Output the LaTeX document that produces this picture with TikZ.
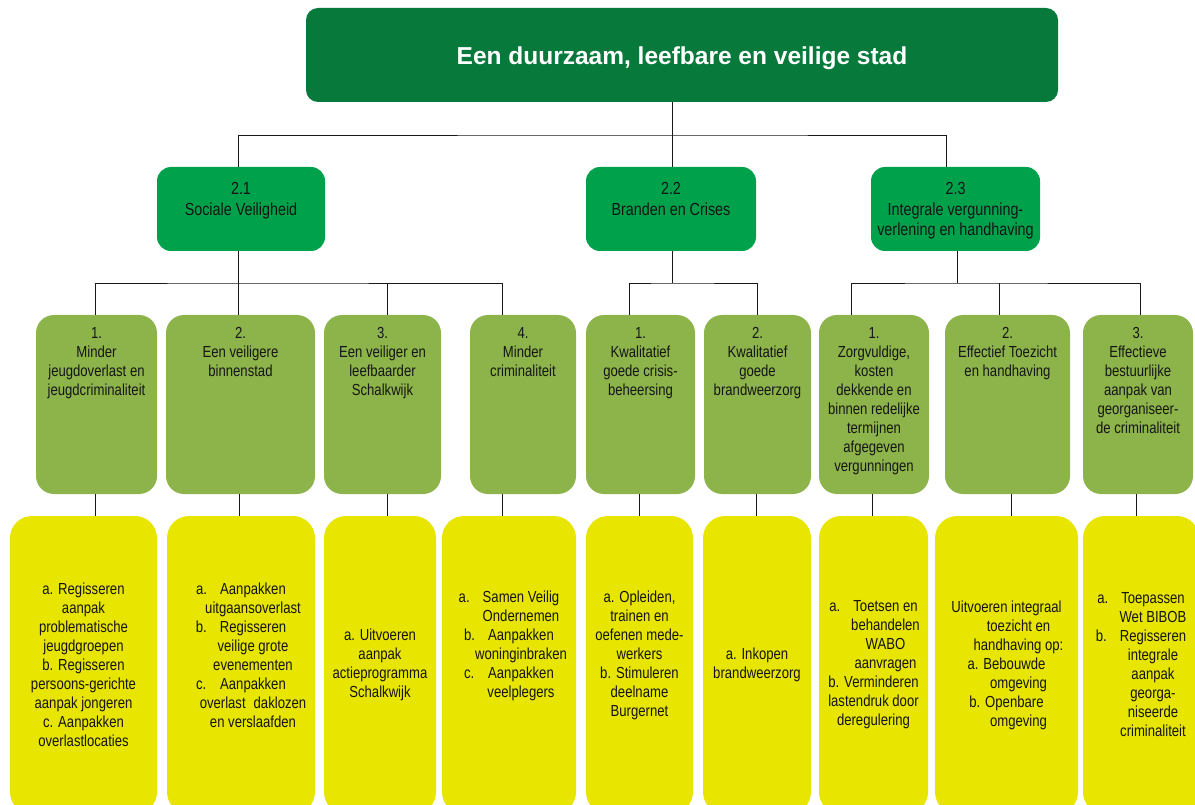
\documentclass[tikz,border=0pt]{standalone}
\usepackage{fontspec}
\setmainfont{Liberation Sans}
\newfontfamily\narrow[FakeStretch=0.82]{Liberation Sans}
\usetikzlibrary{calc}

\definecolor{dkgreen}{HTML}{077A3B}
\definecolor{mdgreen}{HTML}{00A14B}
\definecolor{ltgreen}{HTML}{8DB44B}
\definecolor{ylw}{HTML}{E8E500}
\definecolor{txtc}{HTML}{151515}

% hanging list item: label hangs left of the text, text shifted right
\newcommand\hangitem[2]{\hbox{\kern24pt\llap{\hbox to 24pt{#1\hfil}}#2}}
\newcommand\hangcont[1]{\hbox{\kern24pt #1}}
% box: style, x1, y1, x2, y2, name
\newcommand\bx[6]{\node[#1, anchor=north west, minimum width={#4-#2}, minimum height={#5-#3}] (#6) at (#2,#3) {};}

\begin{document}
\begin{tikzpicture}[x=1pt,y=-1pt,
  topbox/.style={fill=dkgreen, rounded corners=12pt, inner sep=0pt, outer sep=0pt},
  mbox/.style={fill=mdgreen, rounded corners=14pt, inner sep=0pt, outer sep=0pt},
  lbox/.style={fill=ltgreen, rounded corners=18pt, inner sep=0pt, outer sep=0pt},
  ybox/.style={fill=ylw, rounded corners=22pt, inner sep=0pt, outer sep=0pt},
  titletext/.style={font=\bfseries\fontsize{24.5}{28}\selectfont, text=white, inner sep=0pt},
  mtext/.style={font=\narrow\fontsize{17.5}{20.5}\selectfont, text=txtc, align=center, inner sep=0pt},
  ltext/.style={font=\narrow\fontsize{16}{19}\selectfont, text=txtc, align=center, inner sep=0pt},
  conn/.style={draw=black!90, line width=0.8pt}]
\path[use as bounding box, clip] (0,0) rectangle (1195,805);

% ---------- boxes ----------
\bx{topbox}{306}{8}{1058}{102}{goal}
\bx{mbox}{157}{167}{325}{251}{m21}
\bx{mbox}{586}{167}{756}{251}{m22}
\bx{mbox}{871}{167}{1040}{251}{m23}

\bx{lbox}{36}{315}{157}{494}{g1}
\bx{lbox}{166}{315}{315}{494}{g2}
\bx{lbox}{324}{315}{441}{494}{g3}
\bx{lbox}{470}{315}{576}{494}{g4}
\bx{lbox}{586}{315}{695}{494}{g5}
\bx{lbox}{704}{315}{811}{494}{g6}
\bx{lbox}{819}{315}{929}{494}{g7}
\bx{lbox}{945}{315}{1070}{494}{g8}
\bx{lbox}{1083}{315}{1193}{494}{g9}

\bx{ybox}{10}{516}{157}{814}{y1}
\bx{ybox}{167}{516}{315}{814}{y2}
\bx{ybox}{324}{516}{436}{814}{y3}
\bx{ybox}{442}{516}{576}{814}{y4}
\bx{ybox}{586}{516}{693}{814}{y5}
\bx{ybox}{703}{516}{811}{814}{y6}
\bx{ybox}{819}{516}{928}{814}{y7}
\bx{ybox}{935}{516}{1078}{814}{y8}
\bx{ybox}{1083}{516}{1199}{814}{y9}

% ---------- connectors ----------
\coordinate (j0) at (672,135);
\coordinate (j1) at (238,283);
\coordinate (j2) at (672,283);
\coordinate (j3) at (957,283);

\draw[conn] (goal.south -| j0) -- (j0);
\draw[conn] ([xshift=-3pt]m21.north) |- (j0) -| ([xshift=-9.5pt]m23.north);
\draw[conn] (j0) -- (m22.north -| j0);

\draw[conn] (m21.south -| j1) -- (g2.north -| j1);
\draw[conn] ([xshift=-1.5pt]g1.north) |- (j1) -| ([xshift=-21pt]g4.north);
\draw[conn] ([xshift=5pt]g3.north) -- ([xshift=5pt]g3.north |- j1);

\draw[conn] (m22.south -| j2) -- (j2);
\draw[conn] ([xshift=-11pt]g5.north) |- (j2) -| (g6.north);

\draw[conn] (m23.south -| j3) -- (j3);
\draw[conn] ([xshift=-23pt]g7.north) |- (j3) -| ([xshift=2pt]g9.north);
\draw[conn] ([xshift=-8.5pt]g8.north) -- ([xshift=-8.5pt]g8.north |- j3);

\draw[conn] ([xshift=-1.5pt]g1.south) -- ([xshift=-1.5pt]g1.south |- y1.north);
\draw[conn] ([xshift=-1.5pt]g2.south) -- ([xshift=-1.5pt]g2.south |- y2.north);
\draw[conn] ([xshift=5pt]g3.south) -- ([xshift=5pt]g3.south |- y3.north);
\draw[conn] ([xshift=-21pt]g4.south) -- ([xshift=-21pt]g4.south |- y4.north);
\draw[conn] ([xshift=-1.5pt]g5.south) -- ([xshift=-1.5pt]g5.south |- y5.north);
\draw[conn] ([xshift=-1.5pt]g6.south) -- ([xshift=-1.5pt]g6.south |- y6.north);
\draw[conn] ([xshift=-2pt]g7.south) -- ([xshift=-2pt]g7.south |- y7.north);
\draw[conn] ([xshift=3.5pt]g8.south) -- ([xshift=3.5pt]g8.south |- y8.north);
\draw[conn] ([xshift=-2pt]g9.south) -- ([xshift=-2pt]g9.south |- y9.north);

% ---------- texts ----------
\node[titletext, anchor=base] (goalt) at (682,65) {Een duurzaam, leefbare en veilige stad};

\node[mtext, anchor=north] (m21t) at ([yshift=-15.5pt]m21.north) {2.1\\Sociale Veiligheid};
\node[mtext, anchor=north] (m22t) at ([yshift=-15.5pt]m22.north) {2.2\\Branden en Crises};
\node[mtext, anchor=north] (m23t) at ([yshift=-15.5pt]m23.north) {2.3\\Integrale vergunning-\\verlening en handhaving};

\node[ltext, anchor=north] (g1t) at ([yshift=-12pt]g1.north) {1.\\Minder\\jeugdoverlast en\\jeugdcriminaliteit};
\node[ltext, anchor=north] (g2t) at ([yshift=-12pt]g2.north) {2.\\Een veiligere\\binnenstad};
\node[ltext, anchor=north] (g3t) at ([yshift=-12pt]g3.north) {3.\\Een veiliger en\\leefbaarder\\Schalkwijk};
\node[ltext, anchor=north] (g4t) at ([yshift=-12pt]g4.north) {4.\\Minder\\criminaliteit};
\node[ltext, anchor=north] (g5t) at ([yshift=-12pt]g5.north) {1.\\Kwalitatief\\goede crisis-\\beheersing};
\node[ltext, anchor=north] (g6t) at ([yshift=-12pt]g6.north) {2.\\Kwalitatief\\goede\\brandweerzorg};
\node[ltext, anchor=north] (g7t) at ([yshift=-12pt]g7.north) {1.\\Zorgvuldige,\\kosten\\dekkende en\\binnen redelijke\\termijnen\\afgegeven\\vergunningen};
\node[ltext, anchor=north] (g8t) at ([yshift=-12pt]g8.north) {2.\\Effectief Toezicht\\en handhaving};
\node[ltext, anchor=north] (g9t) at ([yshift=-12pt]g9.north) {3.\\Effectieve\\bestuurlijke\\aanpak van\\georganiseer-\\de criminaliteit};

\node[ltext] (y1t) at (83.5,665) {a. Regisseren\\aanpak\\problematische\\jeugdgroepen\\b. Regisseren\\persoons-gerichte\\aanpak jongeren\\c. Aanpakken\\overlastlocaties};
\node[ltext] (y2t) at (241,655) {\hangitem{a.}{Aanpakken}\\\hangcont{uitgaansoverlast}\\\hangitem{b.}{Regisseren}\\\hangcont{veilige grote}\\\hangcont{evenementen}\\\hangitem{c.}{Aanpakken}\\\hangcont{overlast\enspace daklozen}\\\hangcont{en verslaafden}};
\node[ltext] (y3t) at (380,665) {a. Uitvoeren\\aanpak\\actieprogramma\\Schalkwijk};
\node[ltext] (y4t) at (509,645.5) {\hangitem{a.}{Samen Veilig}\\\hangcont{Ondernemen}\\\hangitem{b.}{Aanpakken}\\\hangcont{woninginbraken}\\\hangitem{c.}{Aanpakken}\\\hangcont{veelplegers}};
\node[ltext] (y5t) at (639.5,655) {a. Opleiden,\\trainen en\\oefenen mede-\\werkers\\b. Stimuleren\\deelname\\Burgernet};
\node[ltext] (y6t) at (757,665) {a. Inkopen\\brandweerzorg};
\node[ltext] (y7t) at (873.5,665) {\hangitem{a.}{Toetsen en}\\\hangcont{behandelen}\\\hangcont{WABO}\\\hangcont{aanvragen}\\b. Verminderen\\lastendruk door\\deregulering};
\node[ltext] (y8t) at (1006.5,665) {Uitvoeren integraal\\\hangcont{toezicht en}\\\hangcont{handhaving op:}\\a. Bebouwde\\\hangcont{omgeving}\\b. Openbare\\\hangcont{omgeving}};
\node[ltext] (y9t) at (1141,665) {\hangitem{a.}{Toepassen}\\\hangcont{Wet BIBOB}\\\hangitem{b.}{Regisseren}\\\hangcont{integrale}\\\hangcont{aanpak}\\\hangcont{georga-}\\\hangcont{niseerde}\\\hangcont{criminaliteit}};
\end{tikzpicture}
\end{document}
